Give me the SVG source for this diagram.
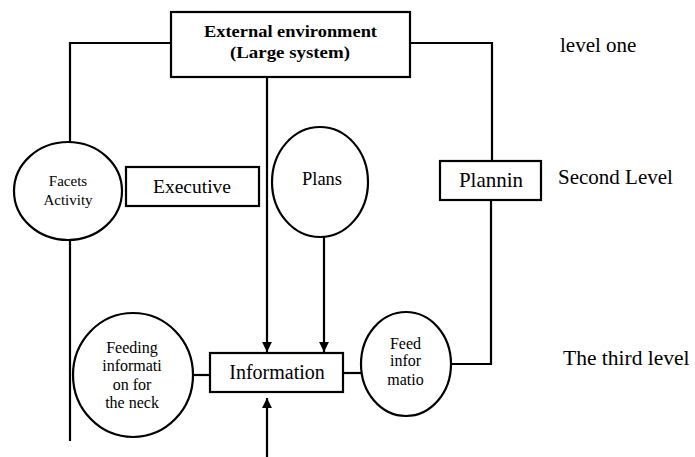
<svg xmlns="http://www.w3.org/2000/svg" width="695" height="457" viewBox="0 0 695 457" font-family="Liberation Serif, DejaVu Serif, serif">
<style>
.box{fill:#fff;stroke:#000;stroke-width:2.2}
.ln{fill:none;stroke:#000;stroke-width:2.2}
text{font-family:'Liberation Serif','Times New Roman','DejaVu Serif',serif;fill:#000;text-anchor:middle}
.b{font-weight:bold}
.lv{text-anchor:start}
</style>
<defs>
<marker id="ah" viewBox="0 0 10 10" refX="10" refY="5" markerWidth="4.5" markerHeight="4.5" orient="auto" markerUnits="strokeWidth">
<path d="M0,0 L10,5 L0,10 z" fill="#000"/>
</marker>
</defs>
<g id="connectors">
<polyline class="ln" points="171,43 70,43 70,142"/>
<line class="ln" x1="70" y1="240" x2="70" y2="441"/>
<line class="ln" x1="267" y1="77" x2="267" y2="352" marker-end="url(#ah)"/>
<line class="ln" x1="324" y1="237" x2="324" y2="352" marker-end="url(#ah)"/>
<line class="ln" x1="267" y1="457" x2="267" y2="398" marker-end="url(#ah)"/>
<polyline class="ln" points="410,43 492,43 492,161"/>
<polyline class="ln" points="491,200 491,364 452,364"/>
<line class="ln" x1="343" y1="373" x2="361" y2="373"/>
<line class="ln" x1="193" y1="375" x2="210" y2="375"/>
</g>
<g id="external">
<rect class="box" x="171" y="12" width="239" height="65"/>
<text class="b" x="290.5" y="37" font-size="16.5" textLength="173" lengthAdjust="spacingAndGlyphs">External environment</text>
<text class="b" x="290" y="58" font-size="16.5" textLength="120" lengthAdjust="spacingAndGlyphs">(Large system)</text>
</g>
<g id="facets">
<ellipse class="box" cx="68" cy="191" rx="54" ry="49"/>
<text x="68" y="186" font-size="15" style="font-family:'Liberation Serif',serif">Facets</text>
<text x="68" y="205" font-size="15" style="font-family:'Liberation Serif',serif">Activity</text>
</g>
<g id="executive">
<rect class="box" x="126" y="167" width="133" height="39"/>
<text x="192" y="193" font-size="19.5" style="font-family:'Liberation Serif',serif">Executive</text>
</g>
<g id="plans">
<ellipse class="box" cx="320" cy="182" rx="48" ry="55"/>
<text x="322" y="185" font-size="18.5" style="font-family:'Liberation Serif',serif">Plans</text>
</g>
<g id="plannin">
<rect class="box" x="440" y="161" width="101" height="39"/>
<text x="491" y="187" font-size="21" style="font-family:'Liberation Serif',serif">Plannin</text>
</g>
<g id="information">
<rect class="box" x="210" y="353" width="133" height="39"/>
<text x="277" y="379" font-size="20" style="font-family:'Liberation Serif',serif">Information</text>
</g>
<g id="feeding">
<ellipse class="box" cx="133" cy="375" rx="60" ry="62"/>
<text x="132" y="353" font-size="16" style="font-family:'Liberation Serif',serif">Feeding</text>
<text x="132" y="371" font-size="16" style="font-family:'Liberation Serif',serif">informati</text>
<text x="132" y="390" font-size="16" style="font-family:'Liberation Serif',serif">on for</text>
<text x="132" y="408" font-size="16" style="font-family:'Liberation Serif',serif">the neck</text>
</g>
<g id="feed">
<ellipse class="box" cx="406" cy="364" rx="45" ry="52"/>
<text x="405.5" y="349" font-size="16" style="font-family:'Liberation Serif',serif">Feed</text>
<text x="405.5" y="366" font-size="16" style="font-family:'Liberation Serif',serif">infor</text>
<text x="405.5" y="385" font-size="16" style="font-family:'Liberation Serif',serif">matio</text>
</g>
<g id="levels">
<text class="lv" x="560" y="52" font-size="21">level one</text>
<text class="lv" x="558" y="184" font-size="21">Second Level</text>
<text class="lv" x="563" y="365" font-size="21.5">The third level</text>
</g>
</svg>
